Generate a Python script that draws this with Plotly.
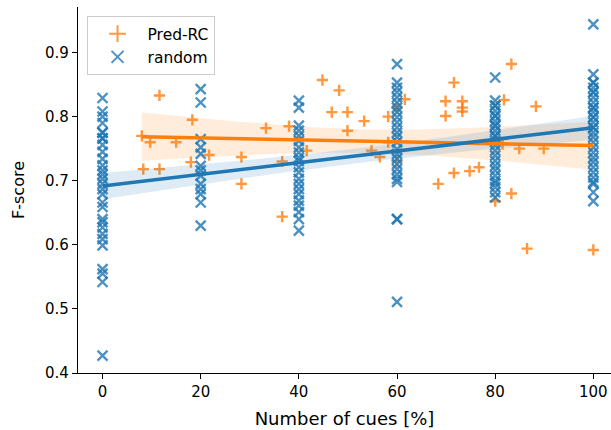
import numpy as np
import plotly.graph_objects as go

# ---------------- data ----------------
pred_rc_x = [8.0, 9.7, 15.0, 11.6, 18.3, 8.3, 11.6, 18.0, 21.7, 28.3, 28.3, 33.3, 38.0, 41.6,
             36.6, 36.6, 44.8, 48.2, 46.7, 49.9, 49.9, 53.3, 54.8, 56.5, 58.2, 58.2, 61.6,
             60.0, 60.0, 69.9, 69.9, 68.4, 71.6, 73.3, 73.3, 73.3, 71.6, 74.8, 76.7, 83.3,
             81.8, 88.3, 81.5, 84.9, 89.9, 83.3, 80.0, 86.5, 100.0]
pred_rc_y = [0.770, 0.760, 0.760, 0.833, 0.795, 0.718, 0.718, 0.729, 0.740, 0.737, 0.695,
             0.782, 0.785, 0.747, 0.730, 0.644, 0.857, 0.841, 0.807, 0.807, 0.778, 0.793,
             0.747, 0.737, 0.800, 0.760, 0.827, 0.814, 0.731, 0.824, 0.801, 0.695, 0.853,
             0.824, 0.814, 0.808, 0.712, 0.715, 0.721, 0.882, 0.826, 0.816, 0.757, 0.750,
             0.750, 0.680, 0.668, 0.594, 0.592]

random_0 = [0.829, 0.808, 0.800, 0.790, 0.775, 0.775, 0.766, 0.766, 0.756, 0.745, 0.734,
            0.724, 0.716, 0.710, 0.703, 0.695, 0.687, 0.679, 0.666, 0.659, 0.640, 0.635,
            0.627, 0.617, 0.609, 0.599, 0.562, 0.555, 0.542, 0.427]
random_20 = [0.843, 0.822, 0.765, 0.752, 0.742, 0.723, 0.716, 0.708, 0.695, 0.687, 0.679,
             0.666, 0.630]
random_40 = [0.825, 0.814, 0.786, 0.778, 0.770, 0.762, 0.752, 0.744, 0.736, 0.731, 0.721,
             0.713, 0.703, 0.695, 0.687, 0.679, 0.669, 0.661, 0.651, 0.640, 0.622]
random_60 = [0.882, 0.853, 0.845, 0.838, 0.830, 0.822, 0.814, 0.807, 0.799, 0.791, 0.783,
             0.775, 0.768, 0.760, 0.749, 0.742, 0.734, 0.726, 0.718, 0.710, 0.703, 0.698,
             0.640, 0.640, 0.511]
random_80 = [0.861, 0.825, 0.817, 0.817, 0.809, 0.801, 0.801, 0.793, 0.786, 0.786, 0.778,
             0.770, 0.770, 0.762, 0.755, 0.747, 0.739, 0.731, 0.723, 0.716, 0.708, 0.700,
             0.696, 0.690, 0.682, 0.674]
random_100 = [0.944, 0.866, 0.853, 0.853, 0.845, 0.838, 0.838, 0.830, 0.822, 0.814, 0.814,
              0.807, 0.799, 0.799, 0.791, 0.783, 0.783, 0.775, 0.768, 0.760, 0.752, 0.744,
              0.736, 0.729, 0.721, 0.713, 0.705, 0.698, 0.695, 0.682, 0.668]
random_levels = [0, 20, 40, 60, 80, 100]

x_ticks = [0, 20, 40, 60, 80, 100]
y_ticks = [0.4, 0.5, 0.6, 0.7, 0.8, 0.9]
series_names = ["Pred-RC", "random"]

# ---------------- derived ----------------
random_x = []
random_y = []
for lvl, vals in zip(random_levels, [random_0, random_20, random_40, random_60, random_80, random_100]):
    random_x += [lvl] * len(vals)
    random_y += vals

BLUE = "#1f77b4"
ORANGE = "#ff7f0e"


def reg_fit(x, y):
    x = np.asarray(x, float)
    y = np.asarray(y, float)
    n = len(x)
    b, a = np.polyfit(x, y, 1)
    grid = np.linspace(x.min(), x.max(), 100)
    fit = a + b * grid
    resid = y - (a + b * x)
    s = np.sqrt(np.sum(resid ** 2) / (n - 2))
    sxx = np.sum((x - x.mean()) ** 2)
    se = s * np.sqrt(1.0 / n + (grid - x.mean()) ** 2 / sxx)
    t = 1.98 if n > 60 else 2.01
    return grid, fit, fit - t * se, fit + t * se


def band(grid, lo, hi, color):
    return go.Scatter(x=np.concatenate([grid, grid[::-1]]), y=np.concatenate([hi, lo[::-1]]),
                      fill="toself", fillcolor=color, line=dict(width=0), mode="lines",
                      showlegend=False, hoverinfo="skip")


g1, f1, l1, h1 = reg_fit(pred_rc_x, pred_rc_y)
g2, f2, l2, h2 = reg_fit(random_x, random_y)

fig = go.Figure()
fig.add_trace(go.Scatter(x=pred_rc_x, y=pred_rc_y, mode="markers", name=series_names[0],
                         marker=dict(symbol="cross-thin", size=8, opacity=0.8,
                                     line=dict(width=2.4, color=ORANGE))))
fig.add_trace(band(g1, l1, h1, "rgba(255,127,14,0.15)"))
fig.add_trace(go.Scatter(x=random_x, y=random_y, mode="markers", name=series_names[1],
                         marker=dict(symbol="x-thin", size=10, opacity=0.8,
                                     line=dict(width=2.4, color=BLUE))))
fig.add_trace(band(g2, l2, h2, "rgba(31,119,180,0.15)"))
fig.add_trace(go.Scatter(x=g1, y=f1, mode="lines", line=dict(color=ORANGE, width=3.5),
                         showlegend=False, hoverinfo="skip"))
fig.add_trace(go.Scatter(x=g2, y=f2, mode="lines", line=dict(color=BLUE, width=3.5),
                         showlegend=False, hoverinfo="skip"))

axis_common = dict(showgrid=False, zeroline=False, showline=True, linecolor="black",
                   linewidth=1.3, ticks="outside", ticklen=5, tickwidth=1.3, tickcolor="black",
                   tickfont=dict(family="DejaVu Sans", size=15, color="black"))

fig.update_layout(
    width=611, height=430,
    margin=dict(l=78, r=0, t=7, b=57, autoexpand=False),
    plot_bgcolor="white", paper_bgcolor="white",
    font=dict(family="DejaVu Sans", size=15, color="black"),
    xaxis=dict(range=[-5, 103.6], tickvals=x_ticks, ticktext=[str(v) for v in x_ticks],
               automargin=False,
               title=dict(text="Number of cues [%]", standoff=12,
                          font=dict(family="DejaVu Sans", size=18, color="black")),
               **axis_common),
    yaxis=dict(range=[0.4, 0.971], tickvals=y_ticks, ticktext=[f"{v:.1f}" for v in y_ticks],
               automargin=False,
               title=dict(text="F-score", standoff=16,
                          font=dict(family="DejaVu Sans", size=16, color="black")),
               **axis_common),
    legend=dict(x=0.016, y=0.975, xanchor="left", yanchor="top",
                bgcolor="rgba(255,255,255,0.8)", bordercolor="#cccccc", borderwidth=1,
                font=dict(family="DejaVu Sans", size=15.5, color="black"),
                itemwidth=50, itemsizing="constant"),
)

fig.write_html("out.html", config={"displayModeBar": False},
               post_script="document.body.style.margin='0';")
